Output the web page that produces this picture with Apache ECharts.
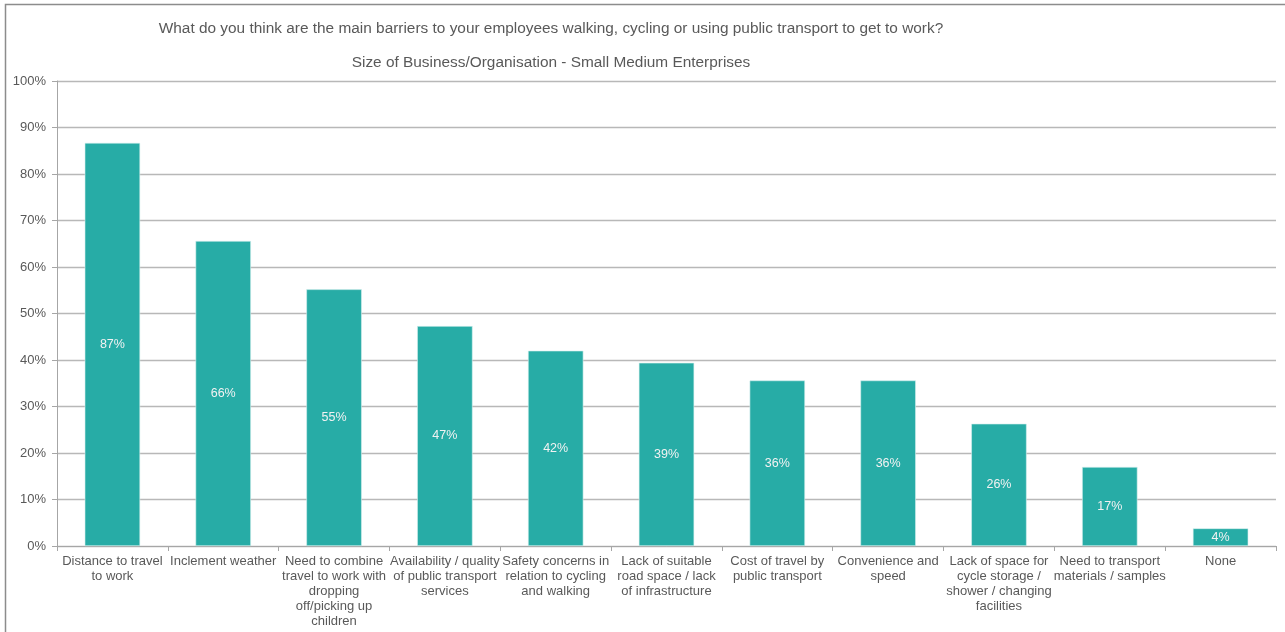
<!DOCTYPE html>
<html>
<head>
<meta charset="utf-8">
<script src="https://cdn.jsdelivr.net/npm/echarts@6/dist/echarts.min.js"></script>
<style>
  html, body { margin: 0; padding: 0; background: #ffffff; }
  #chart { width: 1285px; height: 632px; }
</style>
</head>
<body>
<div id="chart"></div>
<script>
// Barrier categories (line breaks as shown under each bar)
const categories = [
  'Distance to travel\nto work',
  'Inclement weather',
  'Need to combine\ntravel to work with\ndropping\noff/picking up\nchildren',
  'Availability / quality\nof public transport\nservices',
  'Safety concerns in\nrelation to cycling\nand walking',
  'Lack of suitable\nroad space / lack\nof infrastructure',
  'Cost of travel by\npublic transport',
  'Convenience and\nspeed',
  'Lack of space for\ncycle storage /\nshower / changing\nfacilities',
  'Need to transport\nmaterials / samples',
  'None'
];

// Share of respondents (%)
const shares = [86.7, 65.6, 55.2, 47.3, 42.0, 39.4, 35.6, 35.6, 26.3, 17.0, 3.8];

// Value axis ticks
const yMin = 0;
const yMax = 100;
const yStep = 10;

const chartTitle = 'What do you think are the main barriers to your employees walking, cycling or using public transport to get to work?';
const chartSubtitle = 'Size of Business/Organisation - Small Medium Enterprises';

const textColor = '#595959';
const fontFamily = '"Liberation Sans", Arial, sans-serif';

const chart = echarts.init(document.getElementById('chart'), null, { renderer: 'canvas' });

chart.setOption({
  animation: false,
  backgroundColor: '#ffffff',
  textStyle: { fontFamily: fontFamily },
  graphic: [
    {
      type: 'rect',
      silent: true,
      shape: { x: 5.5, y: 4.5, width: 1300, height: 660 },
      style: { fill: null, stroke: '#8c8c8c', lineWidth: 1.5 }
    },
    {
      type: 'text',
      silent: true,
      x: 551, y: 29,
      style: {
        text: chartTitle,
        fill: textColor,
        font: '15.4px ' + fontFamily,
        textAlign: 'center',
        textVerticalAlign: 'middle'
      }
    },
    {
      type: 'text',
      silent: true,
      x: 551, y: 63,
      style: {
        text: chartSubtitle,
        fill: textColor,
        font: '15.4px ' + fontFamily,
        textAlign: 'center',
        textVerticalAlign: 'middle'
      }
    }
  ],
  grid: {
    left: 57,
    right: 9,
    top: 81,
    bottom: 86,
    containLabel: false
  },
  xAxis: {
    type: 'category',
    data: categories,
    axisLine: { show: true, lineStyle: { color: '#a6a6a6', width: 1 } },
    axisTick: { show: true, alignWithLabel: false, length: 5, lineStyle: { color: '#a6a6a6' } },
    axisLabel: {
      interval: 0,
      color: textColor,
      fontSize: 13,
      lineHeight: 15,
      margin: 8,
      align: 'center'
    }
  },
  yAxis: {
    type: 'value',
    min: yMin,
    max: yMax,
    interval: yStep,
    axisLine: { show: true, lineStyle: { color: '#a6a6a6', width: 1 } },
    axisTick: { show: true, length: 5, lineStyle: { color: '#a6a6a6' } },
    axisLabel: {
      color: textColor,
      fontSize: 13,
      margin: 11,
      formatter: '{value}%'
    },
    splitLine: { show: true, lineStyle: { color: '#b8b8b8', width: 1.3 } }
  },
  series: [
    {
      type: 'bar',
      data: shares,
      barWidth: '50%',
      itemStyle: { color: '#27ACA6', borderColor: '#d7f0ee', borderWidth: 0.6 },
      label: {
        show: true,
        position: 'inside',
        color: '#f2f2f2',
        fontSize: 12.5,
        formatter: function (p) { return Math.round(p.value) + '%'; }
      }
    }
  ]
});
</script>
</body>
</html>
